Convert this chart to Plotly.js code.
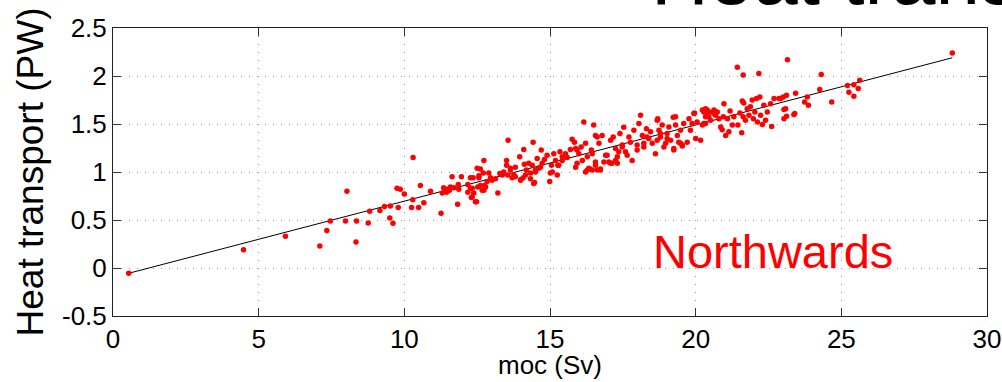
<!DOCTYPE html>
<html>
<head>
<meta charset="utf-8">
<script src="https://cdn.plot.ly/plotly-3.0.1.min.js"></script>
<style>
html,body{margin:0;padding:0;background:#fff;}
#chart{width:1002px;height:382px;}
</style>
</head>
<body>
<div id="chart"></div>
<script>
// MOC (Sv) values
var moc = [
0.54,4.48,5.92,7.10,7.34,7.46,7.98,8.03,8.36,8.34,8.76,8.81,9.16,9.32,9.50,9.52,9.61,9.75,9.86,9.79,
10.0,10.30,10.29,10.25,10.49,10.55,10.67,10.90,11.26,11.30,11.35,11.45,11.49,11.55,11.58,11.64,11.70,11.85,11.87,11.83,
11.96,12.18,12.18,12.27,12.36,12.33,12.38,12.30,12.48,12.50,12.56,12.52,12.61,12.73,12.71,12.75,12.73,12.90,12.96,12.56,
13.21,13.28,13.41,13.51,13.56,13.55,13.64,13.70,13.76,13.81,13.96,13.99,14.10,14.08,14.12,14.19,14.27,14.33,14.39,14.42,
14.47,14.50,14.56,14.61,14.70,14.73,14.81,14.90,15.01,14.99,15.05,15.13,15.19,15.27,15.34,15.42,15.53,15.59,15.70,15.76,
15.84,15.88,15.93,15.99,16.07,16.16,16.22,16.28,16.37,16.42,16.50,16.56,16.62,16.68,16.62,16.79,16.91,16.73,16.56,17.02,
17.08,17.17,17.25,17.31,17.40,17.48,17.53,17.59,17.71,17.76,17.82,17.88,17.99,18.05,18.11,18.17,18.22,18.31,18.39,18.45,
18.51,18.62,18.68,18.74,18.79,18.85,18.97,19.02,19.08,19.14,19.23,19.25,19.31,19.37,19.42,19.48,19.54,19.59,19.71,19.77,
19.82,19.88,19.94,20.00,20.05,20.17,20.23,20.28,20.34,20.40,20.28,20.40,20.45,20.34,20.23,20.51,20.57,20.63,20.68,20.74,
20.80,20.86,20.91,20.97,20.95,21.03,21.09,21.14,21.18,21.26,21.31,21.43,21.45,21.52,21.58,21.60,21.63,21.65,21.63,21.71,
21.77,21.83,21.88,21.94,21.98,22.03,22.09,22.12,22.17,22.20,22.23,22.29,22.34,22.40,22.46,22.57,22.61,22.69,22.86,23.01,
23.03,23.12,23.12,23.15,23.40,23.43,23.74,23.83,23.87,24.26,24.31,24.67,25.21,25.26,25.43,25.43,25.58,25.63,28.81,
13.51,13.64,13.81,13.99,14.16,14.33,14.44,14.50,14.67,15.08,15.25,15.30,15.42,15.53,15.88,15.93,16.11,16.22,16.28,16.33,
16.45,16.56,16.73,16.85,16.96,17.08,17.25,17.36,17.48,17.65,17.99,18.22,18.33,18.68,18.79,18.91,19.02,19.25,19.31,19.54,
20.34,20.45,20.63,
12.27,12.33,12.44,12.61,12.67,12.79,12.84,13.01,13.13,13.36,
18.70,19.96,22.92,23.09,23.37,23.03,
16.45,17.13,17.31,19.48
];
// Heat transport (PW) values, same order
var heat = [
-0.055,0.19,0.33,0.23,0.39,0.49,0.49,0.80,0.49,0.27,0.47,0.59,0.60,0.64,0.52,0.645,0.465,0.83,0.82,0.63,
0.77,1.15,0.71,0.63,0.63,0.86,0.68,0.80,0.57,0.78,0.835,0.79,0.82,0.81,0.845,0.95,0.835,0.87,0.82,0.665,
0.95,0.87,0.79,0.94,0.94,0.83,0.78,0.735,0.69,1.04,0.96,0.845,1.03,1.12,0.99,0.86,0.81,0.99,0.94,0.94,
0.78,0.985,1.00,1.07,1.33,0.97,1.02,0.94,0.97,1.05,1.16,0.92,1.235,0.94,1.08,1.02,1.09,0.99,1.07,1.31,
0.89,1.02,1.14,1.04,1.23,1.09,1.13,1.175,0.99,0.90,1.07,1.19,1.12,1.07,1.21,1.16,1.19,1.15,1.235,1.34,
1.31,1.05,1.23,1.19,1.26,1.52,1.30,1.02,1.03,1.23,1.49,1.38,1.02,1.30,1.365,1.38,1.175,1.03,1.07,1.105,
1.33,1.365,1.245,1.16,1.40,1.26,1.465,1.21,1.365,1.31,1.12,1.435,1.28,1.505,1.59,1.38,1.26,1.45,1.35,1.42,
1.30,1.19,1.54,1.435,1.365,1.49,1.30,1.40,1.47,1.33,1.57,1.245,1.49,1.38,1.31,1.435,1.27,1.505,1.31,1.555,
1.435,1.505,1.61,1.35,1.52,1.33,1.645,1.505,1.66,1.59,1.625,1.645,1.575,1.505,1.49,1.54,1.625,1.645,1.59,1.625,
1.555,1.47,1.44,1.71,1.575,1.38,1.555,1.42,1.635,1.49,1.575,2.09,1.49,1.615,1.41,1.74,2.01,1.72,1.575,1.54,
1.66,1.59,1.68,1.75,1.555,1.625,1.765,1.52,2.025,1.78,1.59,1.495,1.695,1.54,1.625,1.71,1.475,1.765,1.765,1.78,
1.65,1.58,1.80,2.17,1.61,1.82,1.73,1.78,1.695,1.86,2.015,1.73,1.90,1.83,1.91,1.79,1.87,1.955,2.24,
1.12,1.04,0.95,0.915,0.97,0.93,0.88,1.00,1.05,1.00,0.97,1.07,1.12,1.175,1.245,1.09,1.12,1.00,1.16,1.04,
1.02,1.105,1.02,1.105,1.175,1.09,1.12,1.21,1.28,1.175,1.23,1.30,1.365,1.33,1.40,1.26,1.35,1.23,1.575,1.28,
1.575,1.625,1.61,
0.83,0.74,0.69,0.86,0.81,0.845,0.90,0.915,0.93,0.97,
1.555,1.615,1.765,1.66,1.60,1.555,
1.19,1.09,1.09,1.30
];
// Fitted line end points
var fitX = [0.54, 28.81];
var fitY = [-0.055, 2.19];

var xTicks = [0, 5, 10, 15, 20, 25, 30];
var yTicks = [-0.5, 0, 0.5, 1, 1.5, 2, 2.5];

var FONT = 'Liberation Sans, Arial, Helvetica, sans-serif';

var traces = [
  {x: fitX, y: fitY, type: 'scatter', mode: 'lines',
   line: {color: '#000', width: 1}, hoverinfo: 'skip', showlegend: false},
  {x: moc, y: heat, type: 'scatter', mode: 'markers',
   marker: {color: '#ff0000', size: 5.5, line: {width: 0}}, showlegend: false}
];

var axisCommon = {
  showline: true, linecolor: '#222', linewidth: 1, mirror: 'ticks',
  ticks: 'inside', ticklen: 8, tickcolor: '#333', tickwidth: 1,
  showgrid: true, gridcolor: '#999999', griddash: '1px,7px', gridwidth: 1,
  zeroline: false,
  tickfont: {family: FONT, size: 26, color: '#000'}
};

var layout = {
  width: 1002, height: 382,
  margin: {l: 113, r: 15, t: 28, b: 66},
  paper_bgcolor: '#fff', plot_bgcolor: '#fff',
  xaxis: Object.assign({}, axisCommon, {
    range: [0, 30], tickmode: 'array', tickvals: xTicks,
    ticktext: xTicks.map(String), ticklabelstandoff: 0
  }),
  yaxis: Object.assign({}, axisCommon, {
    range: [-0.5, 2.5], tickmode: 'array', tickvals: yTicks,
    ticktext: yTicks.map(String), ticklabelstandoff: 0
  }),
  annotations: [
    {text: 'Heat transport (PW)', xref: 'paper', yref: 'paper',
     x: -0.0944, y: 0.5, xanchor: 'center', yanchor: 'middle', textangle: -90,
     showarrow: false, font: {family: FONT, size: 37, color: '#000'}},
    {text: 'moc (Sv)', xref: 'paper', yref: 'paper',
     x: 0.5, y: -0.17, xanchor: 'center', yanchor: 'middle',
     showarrow: false, font: {family: FONT, size: 26, color: '#000'}},
    {text: 'Northwards', xref: 'x', yref: 'y',
     x: 22.66, y: 0.173, xanchor: 'center', yanchor: 'middle',
     showarrow: false, font: {family: FONT, size: 47, color: '#ff0000'}},
    {text: 'Heat transport', xref: 'paper', yref: 'paper',
     x: 0.613, y: 1.178, xanchor: 'left', yanchor: 'middle',
     showarrow: false, font: {family: FONT, size: 80, color: '#000'}}
  ]
};

Plotly.newPlot('chart', traces, layout, {staticPlot: true, displayModeBar: false});
</script>
</body>
</html>
